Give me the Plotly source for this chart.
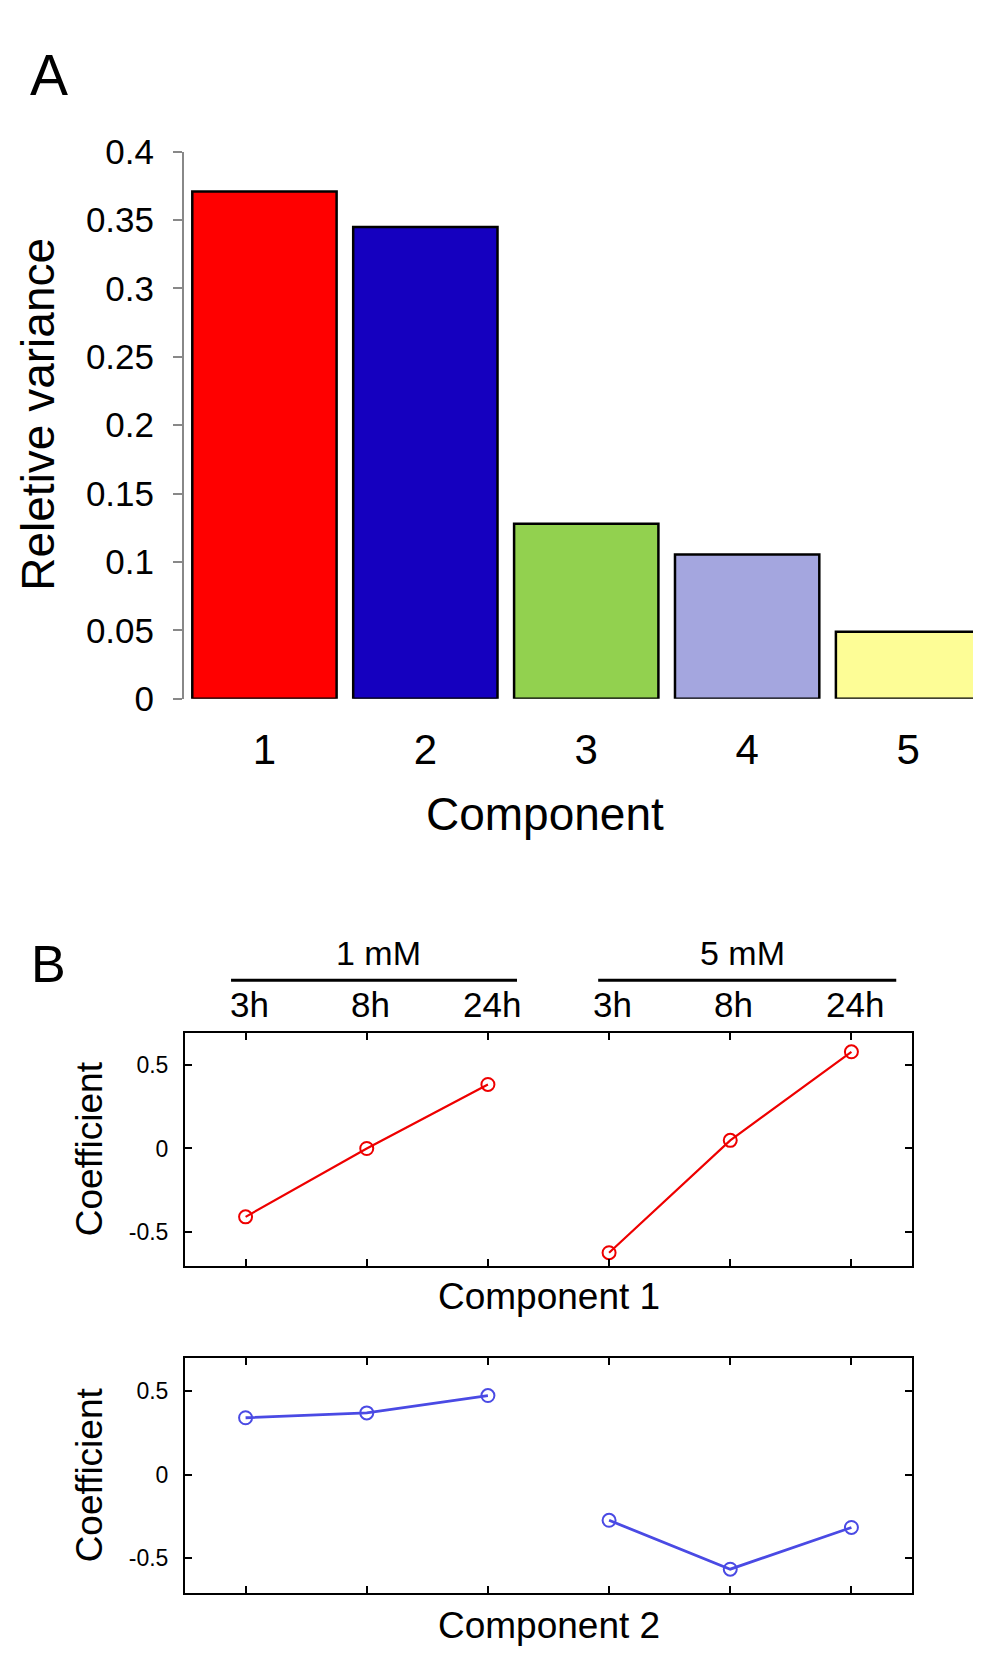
import plotly.graph_objects as go

# ---------------- data ----------------
components = ["1", "2", "3", "4", "5"]
relative_variance = [0.371, 0.345, 0.128, 0.1055, 0.049]
bar_colors = ["#FF0000", "#1500BF", "#92D14F", "#A4A6DF", "#FDFD96"]
variance_ticks = [0, 0.05, 0.1, 0.15, 0.2, 0.25, 0.3, 0.35, 0.4]
variance_ticktext = ["0", "0.05", "0.1", "0.15", "0.2", "0.25", "0.3", "0.35", "0.4"]

concentrations = ["1 mM", "5 mM"]
time_labels = ["3h", "8h", "24h"]
comp1_1mM = [-0.41, 0.0, 0.384]
comp1_5mM = [-0.625, 0.049, 0.58]
comp2_1mM = [0.342, 0.371, 0.475]
comp2_5mM = [-0.273, -0.566, -0.316]
coef_ticks = [-0.5, 0, 0.5]
coef_ticktext = ["-0.5", "0", "0.5"]

FONT = "Liberation Sans, Arial, sans-serif"
H = 1669.0
W = 981.0

def py(p):
    return 1 - p / H

def px(p):
    return p / W

fig = go.Figure()

# ---------------- Panel A ----------------
fig.add_trace(go.Bar(
    x=components, y=relative_variance,
    marker=dict(color=bar_colors, line=dict(color="black", width=2.5)),
    xaxis="x", yaxis="y", showlegend=False,
))

# ---------------- Panel B ----------------
n = len(time_labels)
groups1 = [comp1_1mM, comp1_5mM]
groups2 = [comp2_1mM, comp2_5mM]
for gi, vals in enumerate(groups1):
    xs = [gi * n + i for i in range(n)]
    fig.add_trace(go.Scatter(
        x=xs, y=vals, mode="lines+markers",
        line=dict(color="#EE0000", width=2.2),
        marker=dict(symbol="circle-open", size=13, color="#EE0000", line=dict(width=2)),
        xaxis="x2", yaxis="y2", showlegend=False,
    ))
for gi, vals in enumerate(groups2):
    xs = [gi * n + i for i in range(n)]
    fig.add_trace(go.Scatter(
        x=xs, y=vals, mode="lines+markers",
        line=dict(color="#4A4AE4", width=2.8),
        marker=dict(symbol="circle-open", size=13, color="#4A4AE4", line=dict(width=2)),
        xaxis="x3", yaxis="y3", showlegend=False,
    ))

all_x = list(range(len(concentrations) * n))

box_axis = dict(showline=True, linecolor="black", linewidth=2, mirror="ticks",
                ticks="inside", ticklen=7, tickwidth=2, tickcolor="black",
                showgrid=False, zeroline=False)

fig.update_layout(
    width=981, height=1669,
    margin=dict(l=0, r=0, t=0, b=0),
    paper_bgcolor="white", plot_bgcolor="white",
    font=dict(family=FONT, color="black"),
    bargap=0.103,
    xaxis=dict(domain=[px(176), px(980.5)], type="category", range=[-0.5, 4.5],
               showline=False, ticks="", showgrid=False, zeroline=False,
               tickfont=dict(size=42), ticklabelstandoff=22, anchor="y"),
    yaxis=dict(domain=[py(686.7), py(126.7)], range=[0, 0.4],
               tickvals=variance_ticks, ticktext=variance_ticktext,
               showline=True, linecolor="#888888", linewidth=2,
               ticks="outside", ticklen=9, tickwidth=2, tickcolor="#888888",
               showgrid=False, zeroline=False, tickfont=dict(size=35),
               ticklabelstandoff=12, anchor="x"),
    xaxis2=dict(domain=[px(177), px(904)], range=[-0.5, 5.5], tickvals=all_x,
                showticklabels=False, anchor="y2", **box_axis),
    yaxis2=dict(domain=[py(1268), py(1029)], range=[-0.707, 0.693],
                tickvals=coef_ticks, ticktext=coef_ticktext, tickfont=dict(size=23),
                ticklabelstandoff=10, anchor="x2", **box_axis),
    xaxis3=dict(domain=[px(177), px(904)], range=[-0.5, 5.5], tickvals=all_x,
                showticklabels=False, anchor="y3", **box_axis),
    yaxis3=dict(domain=[py(1602.3), py(1361.7)], range=[-0.708, 0.701],
                tickvals=coef_ticks, ticktext=coef_ticktext, tickfont=dict(size=23),
                ticklabelstandoff=10, anchor="x3", **box_axis),
)

ann = []
def text(t, x, y, size, angle=0, xref="paper"):
    ann.append(dict(text=t, x=x, y=y, xref=xref, yref="paper", showarrow=False,
                    font=dict(size=size, family=FONT, color="black"),
                    textangle=angle, xanchor="center", yanchor="middle"))

text("A", px(41), py(48), 57)
text("Reletive variance", px(30), py(396), 46, -90)
text("Component", px(537), py(805), 46)
text("B", px(40), py(958), 52)
text("Coefficient", px(81), py(1148), 37, -90)
text("Coefficient", px(81), py(1482), 37, -90)
text("Component 1", px(541), py(1299), 37)
text("Component 2", px(541), py(1636), 37)

shapes = []
line_ext = [(-0.12, 0.24), (-0.09, 0.37)]
for gi, c in enumerate(concentrations):
    start = gi * n
    end = gi * n + n - 1
    text(c, (start + end) / 2 + 0.1, py(947), 34, xref="x2")
    shapes.append(dict(type="line", xref="x2", yref="paper",
                       x0=start + line_ext[gi][0], x1=end + line_ext[gi][1],
                       y0=py(975), y1=py(975), line=dict(color="black", width=3)))
    for i, t in enumerate(time_labels):
        text(t, start + i + 0.03, py(1000), 35, xref="x2")

fig.update_layout(annotations=ann, shapes=shapes)
fig.write_html("out.html")
